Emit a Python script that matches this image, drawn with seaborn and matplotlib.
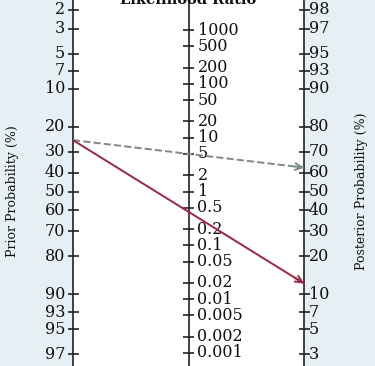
import numpy as np
import matplotlib
matplotlib.use('Agg')
import matplotlib.pyplot as plt
import seaborn as sns

# Fagan nomogram values
prior_ticks = [2, 3, 5, 7, 10, 20, 30, 40, 50, 60, 70, 80, 90, 93, 95, 97]
lr_ticks = [1000, 500, 200, 100, 50, 20, 10, 5, 2, 1, 0.5, 0.2, 0.1,
            0.05, 0.02, 0.01, 0.005, 0.002, 0.001]
post_ticks = [98, 97, 95, 93, 90, 80, 70, 60, 50, 40, 30, 20, 10, 7, 5, 3]
prior_prob = 25
lr_values = [5, 0.42]
line_colors = ['#7b8a88', '#a3233f']
line_styles = ['--', '-']

sns.set_theme(style='white')
plt.rcParams['font.family'] = ['DejaVu Serif']


def logit(p):
    p = np.asarray(p, dtype=float) / 100
    return np.log(p / (1 - p))


fig = plt.figure(figsize=(3.75, 3.66), dpi=100)
ax = fig.add_axes([0, 0, 1, 1])

# axis positions: left=0, middle=1, right=2 (in data units)
px_x = 115.5
px_y = 46.75
xlim = (-73 / px_x, 2 + (375 - 304) / px_x)
ylim = (-(366 - 191.5) / px_y, 191.5 / px_y)
ax.set_xlim(xlim)
ax.set_ylim(ylim)
ax.set_axis_off()

bg = '#e6eff3'
ax.axvspan(xlim[0], 0, color=bg, lw=0, zorder=0)
ax.axvspan(2, xlim[1], color=bg, lw=0, zorder=0)

axis_col = '#222222'
for x in [0, 1, 2]:
    ax.plot([x, x], ylim, color=axis_col, lw=1.2, zorder=2)

tick_half = 5.5 / px_x
fs = 11.5
txt_col = '#111111'

# left axis: prior probability (reversed logit)
y_prior = -logit(prior_ticks)
ax.hlines(y_prior, -tick_half, tick_half, color=axis_col, lw=1.2, zorder=2)
for v, y in zip(prior_ticks, y_prior):
    ax.text(-8 / px_x, y, f'{v:g}', ha='right', va='center', fontsize=fs, color=txt_col)

# middle axis: likelihood ratio
y_lr = np.log(lr_ticks) / 2
ax.hlines(y_lr, 1 - tick_half, 1 + tick_half, color=axis_col, lw=1.2, zorder=2)
for v, y in zip(lr_ticks, y_lr):
    ax.text(1 + 9 / px_x, y, f'{v:g}', ha='left', va='center', fontsize=fs, color=txt_col)

# right axis: posterior probability
y_post = logit(post_ticks)
ax.hlines(y_post, 2 - tick_half, 2 + tick_half, color=axis_col, lw=1.2, zorder=2)
for v, y in zip(post_ticks, y_post):
    ax.text(2 + 5 / px_x, y, f'{v:g}', ha='left', va='center', fontsize=fs, color=txt_col)

# patient lines
y_start = -logit(prior_prob)
for lr, c, ls in zip(lr_values, line_colors, line_styles):
    y_end = logit(prior_prob) + np.log(lr)
    sns.lineplot(x=[0, 2], y=[y_start, y_end], color=c, linestyle=ls,
                 lw=1.4, ax=ax, zorder=3)
    slope = (y_end - y_start) / 2
    ax.annotate('', xy=(2, y_end), xytext=(2 - 0.08, y_end - slope * 0.08),
                arrowprops=dict(arrowstyle='->', color=c, lw=1.4,
                                shrinkA=0, shrinkB=0, mutation_scale=12),
                zorder=4)

fig.text(188.5 / 375, 1 - 4 / 366, 'Likelihood Ratio', ha='center', va='baseline',
         fontsize=10.5, fontweight='bold', color=txt_col)
fig.text(13 / 375, 1 - 191 / 366, 'Prior Probability (%)', rotation=90,
         ha='center', va='center', fontsize=9, color=txt_col)
fig.text(362 / 375, 1 - 191 / 366, 'Posterior Probability (%)', rotation=90,
         ha='center', va='center', fontsize=9, color=txt_col)

fig.savefig('out.png', dpi=100)
